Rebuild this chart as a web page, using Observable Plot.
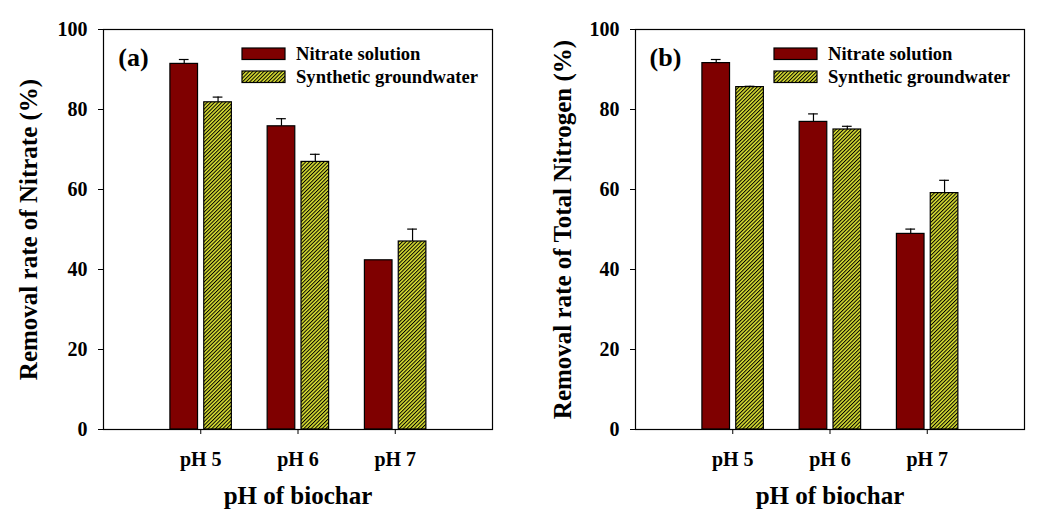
<!DOCTYPE html>
<html><head><meta charset="utf-8">
<script src="https://cdn.jsdelivr.net/npm/d3@7"></script>
<script src="https://cdn.jsdelivr.net/npm/@observablehq/plot@0.6"></script>
<style>
html,body{margin:0;padding:0;background:#fff;}
#wrap{display:flex;width:1041px;height:522px;}
#wrap svg{flex:none;max-width:none;}
</style></head><body><div id="wrap"></div>
<script>
const categories = ["pH 5", "pH 6", "pH 7"];
const seriesNames = ["Nitrate solution", "Synthetic groundwater"];
// Panel (a): removal rate of nitrate (%)
const nitrateA = [91.4, 75.8, 42.3];
const nitrateAErr = [1.1, 1.9, 0];
const groundA = [81.8, 66.9, 47.0];
const groundAErr = [1.3, 1.9, 3.1];
// Panel (b): removal rate of total nitrogen (%)
const nitrateB = [91.6, 76.9, 48.9];
const nitrateBErr = [0.9, 2.0, 1.2];
const groundB = [85.6, 75.0, 59.1];
const groundBErr = [0.2, 0.8, 3.2];
const yTicks = [0, 20, 40, 60, 80, 100];

const RED = "#7f0000";
const YELLOW = "#d9df32";
const FONT = "'Liberation Serif', 'Times New Roman', serif";
const offsets = [-0.17, 0.178];
const halfW = 0.142;
const capHalf = 0.05;

function makePanel({tag, yLabel, nitrate, nitrateErr, ground, groundErr, width, marginLeft, marginRight, pid, titleDx}) {
  const rows = [];
  categories.forEach((c, i) => {
    rows.push({cat: c, s: 0, pos: i + 1 + offsets[0], value: nitrate[i], err: nitrateErr[i]});
    rows.push({cat: c, s: 1, pos: i + 1 + offsets[1], value: ground[i], err: groundErr[i]});
  });
  const errRows = rows.filter(d => d.err > 0);
  const svg = Plot.plot({
    width, height: 522,
    marginLeft, marginRight, marginTop: 29, marginBottom: 93,
    style: {fontFamily: FONT, fontWeight: "bold", fontSize: "20px", color: "black", background: "white", overflow: "visible"},
    x: {type: "linear", domain: [0, 4]},
    y: {domain: [0, 100]},
    marks: [
      Plot.rect(rows.filter(d => d.s === 0), {x1: d => d.pos - halfW, x2: d => d.pos + halfW, y1: 0, y2: "value", fill: RED, stroke: "black", strokeWidth: 1.2}),
      Plot.rect(rows.filter(d => d.s === 1), {x1: d => d.pos - halfW, x2: d => d.pos + halfW, y1: 0, y2: "value", fill: `url(#${pid})`, stroke: "black", strokeWidth: 1.2}),
      Plot.ruleX(errRows, {x: "pos", y1: "value", y2: d => d.value + d.err, stroke: "black", strokeWidth: 1.2}),
      Plot.ruleY(errRows, {y: d => d.value + d.err, x1: d => d.pos - capHalf, x2: d => d.pos + capHalf, stroke: "black", strokeWidth: 1.2}),
      Plot.axisY(yTicks, {tickSize: 5, tickPadding: 11, label: null, fontSize: 20, fontWeight: "bold"}),
      Plot.axisX([1, 2, 3], {tickFormat: d => categories[d - 1], tickSize: 5, tickPadding: 17, label: null, fontSize: 20, fontWeight: "bold"}),
      Plot.frame({stroke: "black", strokeWidth: 1.2}),
      Plot.text([yLabel], {frameAnchor: "left", rotate: -90, dx: titleDx, textAnchor: "middle", lineAnchor: "middle", fontSize: 25, fontWeight: "bold"}),
      Plot.text(["pH of biochar"], {frameAnchor: "bottom", dy: 66, textAnchor: "middle", lineAnchor: "middle", fontSize: 25, fontWeight: "bold"}),
      Plot.text([tag], {frameAnchor: "top-left", dx: 30, dy: 28.5, textAnchor: "middle", lineAnchor: "middle", fontSize: 26, fontWeight: "bold"})
    ]
  });
  const s = d3.select(svg);
  const defs = s.insert("defs", ":first-child");
  const pat = defs.append("pattern").attr("id", pid).attr("patternUnits", "userSpaceOnUse")
    .attr("width", 2.6).attr("height", 2.6).attr("patternTransform", "rotate(45)");
  pat.append("rect").attr("width", 2.6).attr("height", 2.6).attr("fill", YELLOW);
  pat.append("rect").attr("x", 0).attr("y", 0).attr("width", 1).attr("height", 2.6).attr("fill", "black");
  // legend
  const x0 = marginLeft + 139;
  const lg = s.append("g").attr("font-family", FONT).attr("font-weight", "bold").attr("font-size", 18.6);
  const swY = [48, 71];
  const fills = [RED, `url(#${pid})`];
  seriesNames.forEach((name, k) => {
    lg.append("rect").attr("x", x0).attr("y", swY[k]).attr("width", 43).attr("height", 11.5)
      .attr("fill", fills[k]).attr("stroke", "black").attr("stroke-width", 1.2);
    lg.append("text").attr("x", x0 + 54).attr("y", swY[k] + 6).attr("dy", "0.34em")
      .attr("text-anchor", "start").text(name);
  });
  return svg;
}

const wrap = document.getElementById("wrap");
wrap.appendChild(makePanel({tag: "(a)", yLabel: "Removal rate of Nitrate (%)", nitrate: nitrateA, nitrateErr: nitrateAErr, ground: groundA, groundErr: groundAErr, width: 520, marginLeft: 103, marginRight: 28, pid: "hatchA", titleDx: -75}));
wrap.appendChild(makePanel({tag: "(b)", yLabel: "Removal rate of Total Nitrogen (%)", nitrate: nitrateB, nitrateErr: nitrateBErr, ground: groundB, groundErr: groundBErr, width: 521, marginLeft: 115, marginRight: 17, pid: "hatchB", titleDx: -73}));
</script></body></html>
